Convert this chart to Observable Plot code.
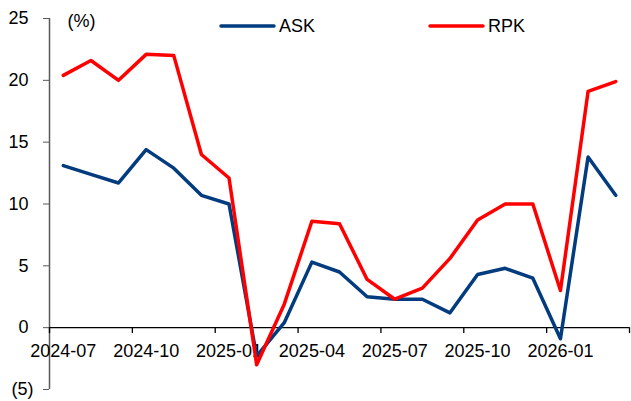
<!DOCTYPE html>
<html>
<head>
<meta charset="utf-8">
<script src="https://cdn.jsdelivr.net/npm/d3@7"></script>
<script src="https://cdn.jsdelivr.net/npm/@observablehq/plot@0.6"></script>
<style>
  html, body { margin: 0; padding: 0; background: #fff; }
  #wrap { position: relative; width: 631px; height: 401px; font-family: "Liberation Sans", Arial, sans-serif; }
  #legend { position: absolute; left: 0; top: 0; pointer-events: none; }
</style>
</head>
<body>
<div id="wrap"></div>
<script>
const months = ["2024-07","2024-08","2024-09","2024-10","2024-11","2024-12","2025-01","2025-02","2025-03","2025-04","2025-05","2025-06","2025-07","2025-08","2025-09","2025-10","2025-11","2025-12","2026-01","2026-02","2026-03"];
const ask = [13.1, 12.4, 11.7, 14.4, 12.9, 10.7, 10.0, -2.3, 0.4, 5.3, 4.5, 2.5, 2.3, 2.3, 1.2, 4.3, 4.8, 4.0, -0.9, 13.8, 10.7];
const rpk = [20.4, 21.6, 20.0, 22.1, 22.0, 14.0, 12.1, -3.0, 1.9, 8.6, 8.4, 3.9, 2.3, 3.2, 5.6, 8.7, 10.0, 10.0, 3.0, 19.1, 19.9];
const xTickLabels = ["2024-07","2024-10","2025-01","2025-04","2025-07","2025-10","2026-01"];
const yTicks = [-5, 0, 5, 10, 15, 20, 25];
const seriesNames = ["ASK", "RPK"];
const seriesColors = ["#023B7E", "#FF0000"];

const askData = months.map((m, i) => ({i: i + 0.5, v: ask[i]}));
const rpkData = months.map((m, i) => ({i: i + 0.5, v: rpk[i]}));
const boundaries = d3.range(0, months.length + 1, 3);
const labelData = xTickLabels.map(l => ({l, i: months.indexOf(l) + 0.5}));

const font = '"Liberation Sans", Arial, sans-serif';

const chart = Plot.plot({
  width: 631,
  height: 401,
  marginLeft: 49,
  marginRight: 2,
  marginTop: 18,
  marginBottom: 12,
  style: {fontFamily: font, fontSize: "18px", color: "#000", background: "#fff"},
  x: {domain: [0, months.length], axis: null},
  y: {domain: [-5, 25]},
  marks: [
    Plot.axisY(yTicks, {
      tickSize: 6,
      tickPadding: 10,
      stroke: "#595959",
      fill: "#000",
      label: null,
      tickFormat: d => d < 0 ? `(${-d})` : `${d}\u00a0`
    }),
    Plot.ruleX([0], {stroke: "#595959", strokeWidth: 1.5}),
    Plot.ruleY([0], {stroke: "#000", strokeWidth: 1.3}),
    Plot.ruleX(boundaries, {x: d => d, y1: 0, y2: -0.48, stroke: "#000", strokeWidth: 1.3}),
    Plot.text(labelData, {x: "i", y: 0, text: "l", dy: 24, fill: "#000", fontSize: 18, textAnchor: "middle", lineAnchor: "middle"}),
    Plot.text(["(%)"], {frameAnchor: "top-left", dx: 18, dy: 3, textAnchor: "start", lineAnchor: "middle", fontSize: 18, fill: "#000"}),
    Plot.line(askData, {x: "i", y: "v", stroke: seriesColors[0], strokeWidth: 3.5, strokeLinejoin: "round", strokeLinecap: "round"}),
    Plot.line(rpkData, {x: "i", y: "v", stroke: seriesColors[1], strokeWidth: 3.5, strokeLinejoin: "round", strokeLinecap: "round"})
  ]
});
document.getElementById("wrap").appendChild(chart);

// Legend overlay
const legend = d3.select("#wrap").append("svg")
  .attr("id", "legend").attr("width", 631).attr("height", 50);
const legendX = [221, 430];
seriesNames.forEach((name, k) => {
  const g = legend.append("g").attr("transform", `translate(${legendX[k]},26)`);
  g.append("line").attr("x1", 0).attr("x2", 53).attr("y1", 0).attr("y2", 0)
    .attr("stroke", seriesColors[k]).attr("stroke-width", 3.5).attr("stroke-linecap", "round");
  g.append("text").attr("x", 58).attr("y", 0).attr("dy", "0.35em")
    .attr("font-family", font).attr("font-size", 18).attr("fill", "#000").text(name);
});
</script>
</body>
</html>
